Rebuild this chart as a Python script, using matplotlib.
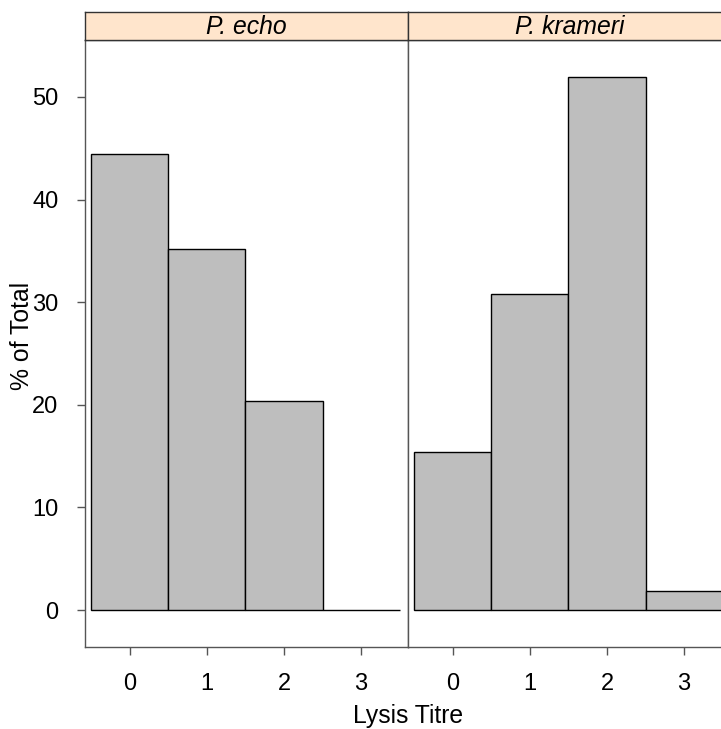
import matplotlib
matplotlib.use("Agg")
import matplotlib.pyplot as plt

# Data: percent of total per lysis titre, per species
titres = [0, 1, 2, 3]
species = ["P. echo", "P. krameri"]
pct_echo = [44.4, 35.2, 20.4, 0.0]
pct_krameri = [15.4, 30.8, 51.9, 1.9]
y_ticks = [0, 10, 20, 30, 40, 50]

plt.rcParams["font.family"] = ["Liberation Sans", "DejaVu Sans"]

FRAME = "#555555"
BAR = "#BEBEBE"
STRIP = "#FFE5CC"
FS_TICK = 17
FS_LAB = 17.8

fig = plt.figure(figsize=(7.21, 7.29), dpi=100)

W, H = 721, 729
panel_l, panel_w = 85, 323
panel_top, panel_bot = 40, 647
strip_top = 12

for i, (name, vals) in enumerate(zip(species, [pct_echo, pct_krameri])):
    left = (panel_l + i * panel_w) / W
    ax = fig.add_axes([left, 1 - panel_bot / H, panel_w / W, (panel_bot - panel_top) / H])
    ax.bar(titres, vals, width=1.0, color=BAR, edgecolor="black", linewidth=1.0)
    ax.set_xlim(-0.584, 3.61)
    ax.set_ylim(-3.6, 55.55)
    ax.set_xticks(titres)
    ax.set_xticklabels([str(t) for t in titres])
    for s in ax.spines.values():
        s.set_color(FRAME)
        s.set_linewidth(1.0)
    ax.tick_params(axis="x", direction="out", length=6, width=1, color=FRAME,
                   labelsize=FS_TICK, pad=13)
    if i == 0:
        ax.set_yticks(y_ticks)
        ax.tick_params(axis="y", direction="out", length=6, width=1, color=FRAME,
                       labelsize=FS_TICK, pad=13)
    else:
        ax.set_yticks([])

    # strip
    sax = fig.add_axes([left, 1 - panel_top / H, panel_w / W, (panel_top - strip_top) / H])
    sax.set_facecolor(STRIP)
    sax.set_xticks([])
    sax.set_yticks([])
    for s in sax.spines.values():
        s.set_color("#333333")
        s.set_linewidth(1.0)
    sax.text(0.5, 0.45, name, ha="center", va="center", style="italic",
             fontsize=FS_LAB, transform=sax.transAxes)

fig.text(22 / W, 1 - 336 / H, "% of Total", rotation=90, ha="center", va="center",
         fontsize=FS_LAB)
fig.text(408 / W, 1 - 716 / H, "Lysis Titre", ha="center", va="center", fontsize=FS_LAB)

fig.savefig("out.png", dpi=100)
